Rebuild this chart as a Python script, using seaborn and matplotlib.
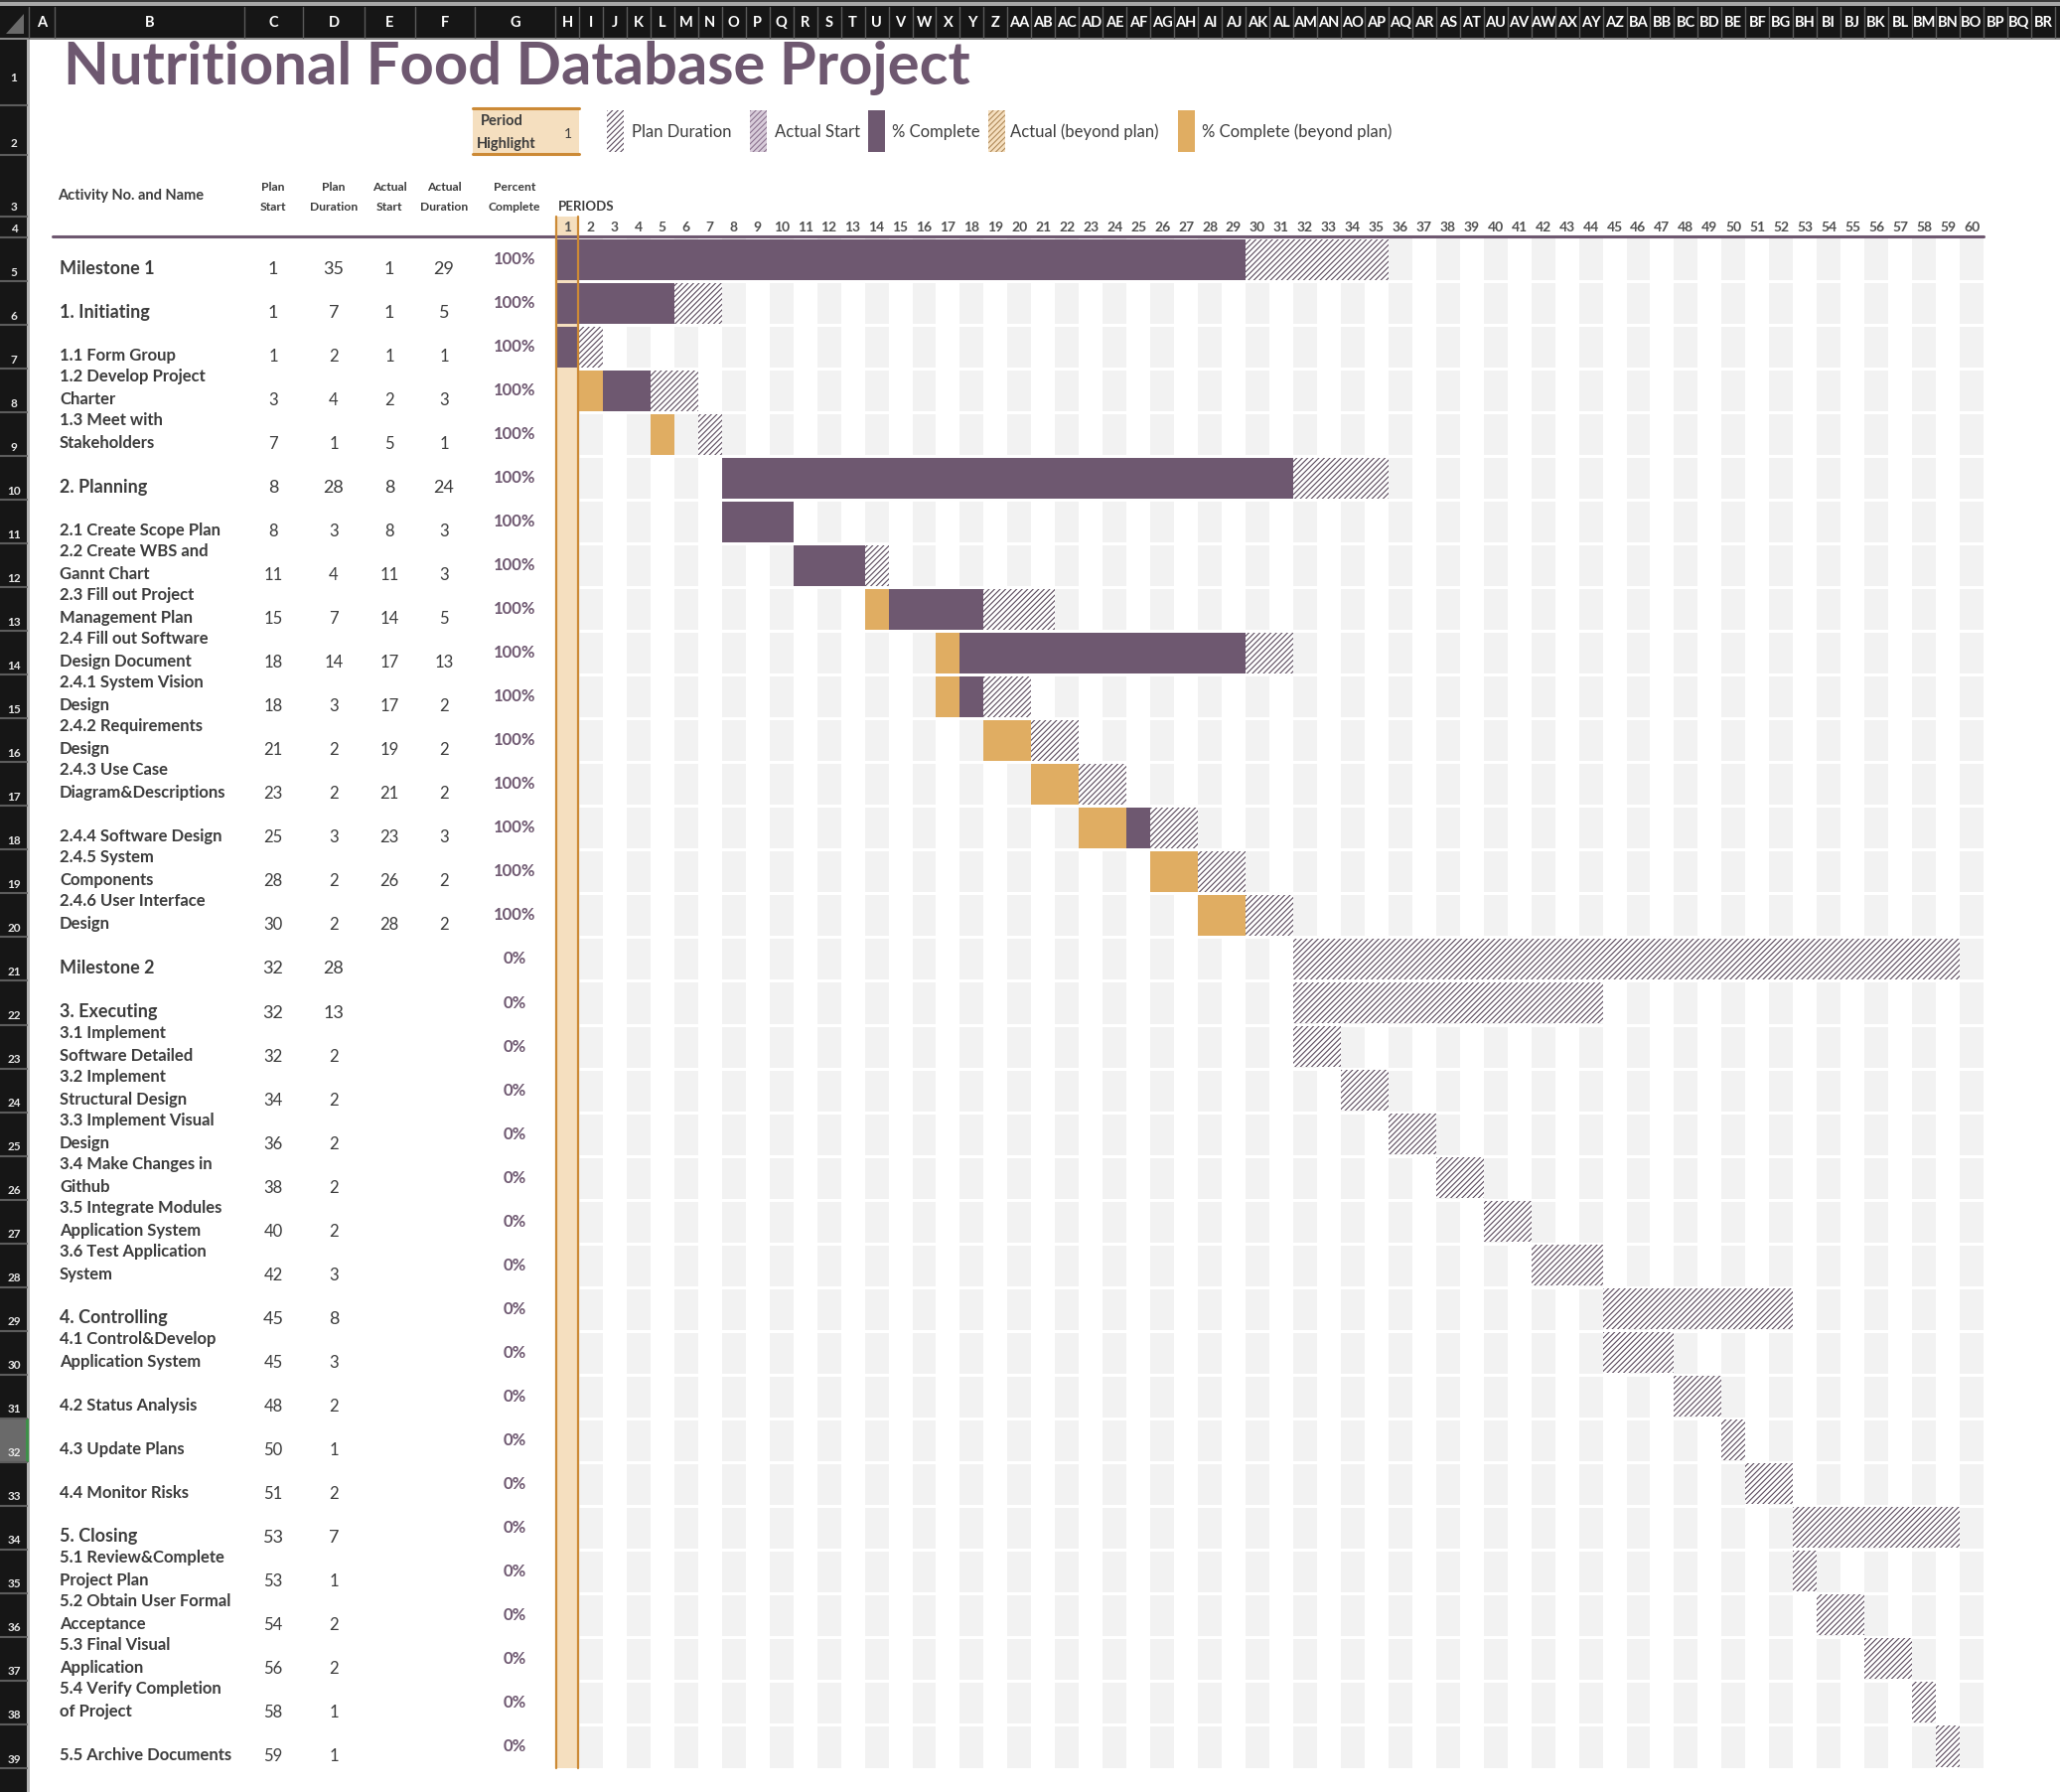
import numpy as np
import pandas as pd
import matplotlib
matplotlib.use("Agg")
import matplotlib.pyplot as plt
import seaborn as sns
from matplotlib.colors import ListedColormap
from matplotlib.patches import Rectangle, Polygon

# =============================================================================
# DATA
# =============================================================================
activities = [
    "Milestone 1", "1. Initiating", "1.1 Form Group", "1.2 Develop Project\nCharter",
    "1.3 Meet with\nStakeholders", "2. Planning", "2.1 Create Scope Plan",
    "2.2 Create WBS and\nGannt Chart", "2.3 Fill out Project\nManagement Plan",
    "2.4 Fill out Software\nDesign Document", "2.4.1 System Vision\nDesign",
    "2.4.2 Requirements\nDesign", "2.4.3 Use Case\nDiagram&Descriptions",
    "2.4.4 Software Design", "2.4.5 System\nComponents", "2.4.6 User Interface\nDesign",
    "Milestone 2", "3. Executing", "3.1 Implement\nSoftware Detailed",
    "3.2 Implement\nStructural Design", "3.3 Implement Visual\nDesign",
    "3.4 Make Changes in\nGithub", "3.5 Integrate Modules\nApplication System",
    "3.6 Test Application\nSystem", "4. Controlling", "4.1 Control&Develop\nApplication System",
    "4.2 Status Analysis", "4.3 Update Plans", "4.4 Monitor Risks", "5. Closing",
    "5.1 Review&Complete\nProject Plan", "5.2 Obtain User Formal\nAcceptance",
    "5.3 Final Visual\nApplication", "5.4 Verify Completion\nof Project",
    "5.5 Archive Documents",
]
plan_start = [1, 1, 1, 3, 7, 8, 8, 11, 15, 18, 18, 21, 23, 25, 28, 30,
              32, 32, 32, 34, 36, 38, 40, 42, 45, 45, 48, 50, 51, 53, 53, 54, 56, 58, 59]
plan_dur = [35, 7, 2, 4, 1, 28, 3, 4, 7, 14, 3, 2, 2, 3, 2, 2,
            28, 13, 2, 2, 2, 2, 2, 3, 8, 3, 2, 1, 2, 7, 1, 2, 2, 1, 1]
actual_start = [1, 1, 1, 2, 5, 8, 8, 11, 14, 17, 17, 19, 21, 23, 26, 28] + [None] * 19
actual_dur = [29, 5, 1, 3, 1, 24, 3, 3, 5, 13, 2, 2, 2, 3, 2, 2] + [None] * 19
pct_complete = [100] * 16 + [0] * 19

n_periods = 60
highlight_period = 1

legend_labels = ["Plan Duration", "Actual Start", "% Complete",
                 "Actual (beyond plan)", "% Complete (beyond plan)"]
header_labels = ["Plan\nStart", "Plan\nDuration", "Actual\nStart", "Actual\nDuration", "Percent\nComplete"]

df = pd.DataFrame({"name": activities, "ps": plan_start, "pd": plan_dur,
                   "as": actual_start, "ad": actual_dur, "pct": pct_complete})

# =============================================================================
# STYLE
# =============================================================================
W, H = 2074, 1804
PURPLE = "#6E5870"
ORANGE = "#E0AD62"
GRAY = "#F2F2F2"
PEACH = "#F5DFBF"
LINE_OR = "#CC8A36"
HATCH = "#5A4A5C"
TEXT = "#3C3C3C"

sns.set_theme(style="white")
plt.rcParams["font.family"] = ["Lato", "DejaVu Sans"]
plt.rcParams["hatch.linewidth"] = 0.8

GX0, GX1 = 559, 1997          # gantt left / right (px)
GY0, GY1 = 239, 1780          # gantt top / bottom (px)
ROW_H = (GY1 - GY0) / len(df)
COL_W = (GX1 - GX0) / n_periods

fig = plt.figure(figsize=(W / 100, H / 100), dpi=100)

# =============================================================================
# GANTT GRID (seaborn heatmap as the cell background)
# =============================================================================
axg = fig.add_axes([GX0 / W, 1 - GY1 / H, (GX1 - GX0) / W, (GY1 - GY0) / H], zorder=0)
bg = np.zeros((len(df), n_periods))
bg[:, 1::2] = 1
bg[:, highlight_period - 1] = 2
sns.heatmap(bg, ax=axg, cmap=ListedColormap(["white", GRAY, PEACH]), vmin=0, vmax=2,
            cbar=False, xticklabels=False, yticklabels=False)
axg.hlines(np.arange(1, len(df)), highlight_period, n_periods, color="white", lw=2.2, zorder=2)

bh = 1 - 3 / ROW_H
for i, r in df.iterrows():
    yc = i + 0.5
    axg.barh(yc, r["pd"], left=r["ps"] - 1, height=bh, color="white",
             edgecolor=HATCH, hatch="//////", linewidth=0, zorder=3)
    if pd.notna(r["as"]) and r["pct"] > 0:
        a0, a1 = int(r["as"]), int(r["as"] + r["ad"])
        if a0 < r["ps"]:
            axg.barh(yc, min(a1, r["ps"]) - a0, left=a0 - 1, height=bh,
                     color=ORANGE, linewidth=0, zorder=4)
        p0 = max(a0, r["ps"])
        if a1 > p0:
            axg.barh(yc, a1 - p0, left=p0 - 1, height=bh, color=PURPLE, linewidth=0, zorder=4)
axg.set_xlim(0, n_periods)
axg.set_ylim(len(df), 0)
axg.axis("off")

# =============================================================================
# OVERLAY (sheet chrome, titles, table text) in pixel coordinates
# =============================================================================
ax = fig.add_axes([0, 0, 1, 1], zorder=2)
ax.set_xlim(0, W)
ax.set_ylim(H, 0)
ax.axis("off")
ax.patch.set_alpha(0)

# column letter bar
ax.add_patch(Rectangle((0, 0), W, 2, color="#3a3a3a", lw=0))
ax.add_patch(Rectangle((0, 2), W, 4, color="#a8a8a8", lw=0))
ax.add_patch(Rectangle((0, 6), W, 32, color="#161616", lw=0))
ax.add_patch(Rectangle((0, 38), W, 2, color="#8a8a8a", lw=0))


def col_name(k):
    s = ""
    while k > 0:
        k, rem = divmod(k - 1, 26)
        s = chr(65 + rem) + s
    return s


col_edges = [29, 55, 246, 305, 367, 418, 478, 559] + [GX0 + COL_W * j for j in range(1, n_periods + 4)]
for k in range(len(col_edges) - 1):
    x0, x1 = col_edges[k], col_edges[k + 1]
    ax.plot([x1, x1], [7, 38], color="#5a5a5a", lw=1)
    ax.text((x0 + x1) / 2, 23, col_name(k + 1), ha="center", va="center",
            color="white", fontsize=10.5, fontweight="bold")
ax.plot([29, 29], [7, 38], color="#5a5a5a", lw=1)
ax.add_patch(Polygon([[24, 14], [24, 34], [6, 34]], closed=True, color="#6a6a6a", lw=0))

# row header column
ax.add_patch(Rectangle((0, 40), 27, H - 40, color="#161616", lw=0))
ax.add_patch(Rectangle((27, 40), 3, H - 40, color="#b4b4b4", lw=0))
sel = 32 - 5
ax.add_patch(Rectangle((0, GY0 + sel * ROW_H), 27, ROW_H, color="#6a6a6a", lw=0))
ax.add_patch(Rectangle((26, GY0 + sel * ROW_H), 3, ROW_H, color="#3f8f4a", lw=0))
row_edges = [106, 156, 218, 239] + [GY0 + ROW_H * j for j in range(1, len(df) + 1)]
for y in row_edges:
    ax.plot([0, 27], [y, y], color="#5c5c5c", lw=1.5)
row_label_y = [79, 144, 208, 231] + [GY0 + ROW_H * (j + 1) - 9 for j in range(len(df))]
for j, y in enumerate(row_label_y):
    ax.text(14, y, str(j + 1), ha="center", va="center", color="#e8e8e8",
            fontsize=8.5, fontweight="bold")

# title
ax.text(64, 68, "Nutritional Food Database Project", ha="left", va="center",
        color=PURPLE, fontsize=43, fontweight="bold")

# period highlight box
ax.add_patch(Rectangle((476, 108), 107, 48, color=PEACH, lw=0))
ax.plot([476, 583], [109, 109], color=LINE_OR, lw=2.2)
ax.plot([476, 583], [155, 155], color=LINE_OR, lw=2.2)
ax.text(484, 122, "Period", ha="left", va="center", color=TEXT, fontsize=10.5, fontweight="bold")
ax.text(480, 145, "Highlight", ha="left", va="center", color=TEXT, fontsize=10.5, fontweight="bold")
ax.text(572, 135, str(highlight_period), ha="center", va="center", color=TEXT, fontsize=10)

# legend
leg_x = [611, 755, 874, 995, 1186]
leg_tx = [636, 780, 898, 1017, 1210]
leg_style = [
    dict(facecolor="white", edgecolor=HATCH, hatch="//////"),
    dict(facecolor="#D8CCDA", edgecolor="#8C7490", hatch="//////"),
    dict(facecolor=PURPLE, edgecolor=PURPLE),
    dict(facecolor=PEACH, edgecolor="#B08A5A", hatch="//////"),
    dict(facecolor=ORANGE, edgecolor=ORANGE),
]
for lx, tx, lab, st in zip(leg_x, leg_tx, legend_labels, leg_style):
    ax.add_patch(Rectangle((lx, 111), 17, 42, lw=0, **st))
    ax.text(tx, 133, lab, ha="left", va="center", color=TEXT, fontsize=12)

# column headers
ax.text(58, 197, "Activity No. and Name", ha="left", va="center", color=TEXT, fontsize=10.5, fontweight="bold")
for cx, lab in zip([275, 336, 392, 447, 518], header_labels):
    top, bot = lab.split("\n")
    ax.text(cx, 188, top, ha="center", va="center", color=TEXT, fontsize=8.7, fontweight="bold")
    ax.text(cx, 208, bot, ha="center", va="center", color=TEXT, fontsize=8.7, fontweight="bold")
ax.text(562, 208, "PERIODS", ha="left", va="center", color=TEXT, fontsize=9.5, fontweight="bold")

# period number row with highlight cell
hx = GX0 + COL_W * (highlight_period - 1)
ax.add_patch(Rectangle((hx, 218), COL_W, 21, color=PEACH, lw=0))
for p in range(1, n_periods + 1):
    ax.text(GX0 + COL_W * (p - 0.5), 229, str(p), ha="center", va="center",
            color="#505050", fontsize=10, fontweight="bold")
ax.plot([53, GX1], [238, 238], color=PURPLE, lw=2.2)
for x in [hx + 1, hx + COL_W - 1]:
    ax.plot([x, x], [218, GY1], color=LINE_OR, lw=1.6)

# table rows
num_x = [275, 336, 392, 447]
for i, r in df.iterrows():
    bottom = GY0 + ROW_H * (i + 1)
    is_group = r["name"].startswith("Milestone") or r["name"][1:3] == ". "
    lines = r["name"].split("\n")
    for k, line in enumerate(reversed(lines)):
        ax.text(60, bottom - 13 - 23 * k, line, ha="left", va="center", color=TEXT,
                fontsize=13 if is_group else 12, fontweight="bold")
    vals = [r["ps"], r["pd"], r["as"], r["ad"]]
    for cx, v in zip(num_x, vals):
        if pd.notna(v):
            ax.text(cx, bottom - 12, str(int(v)), ha="center", va="center", color=TEXT,
                    fontsize=13 if is_group else 12)
    ax.text(518, bottom - 22, f"{int(r['pct'])}%", ha="center", va="center",
            color=PURPLE, fontsize=12, fontweight="bold")

fig.savefig("out.png", dpi=100)
